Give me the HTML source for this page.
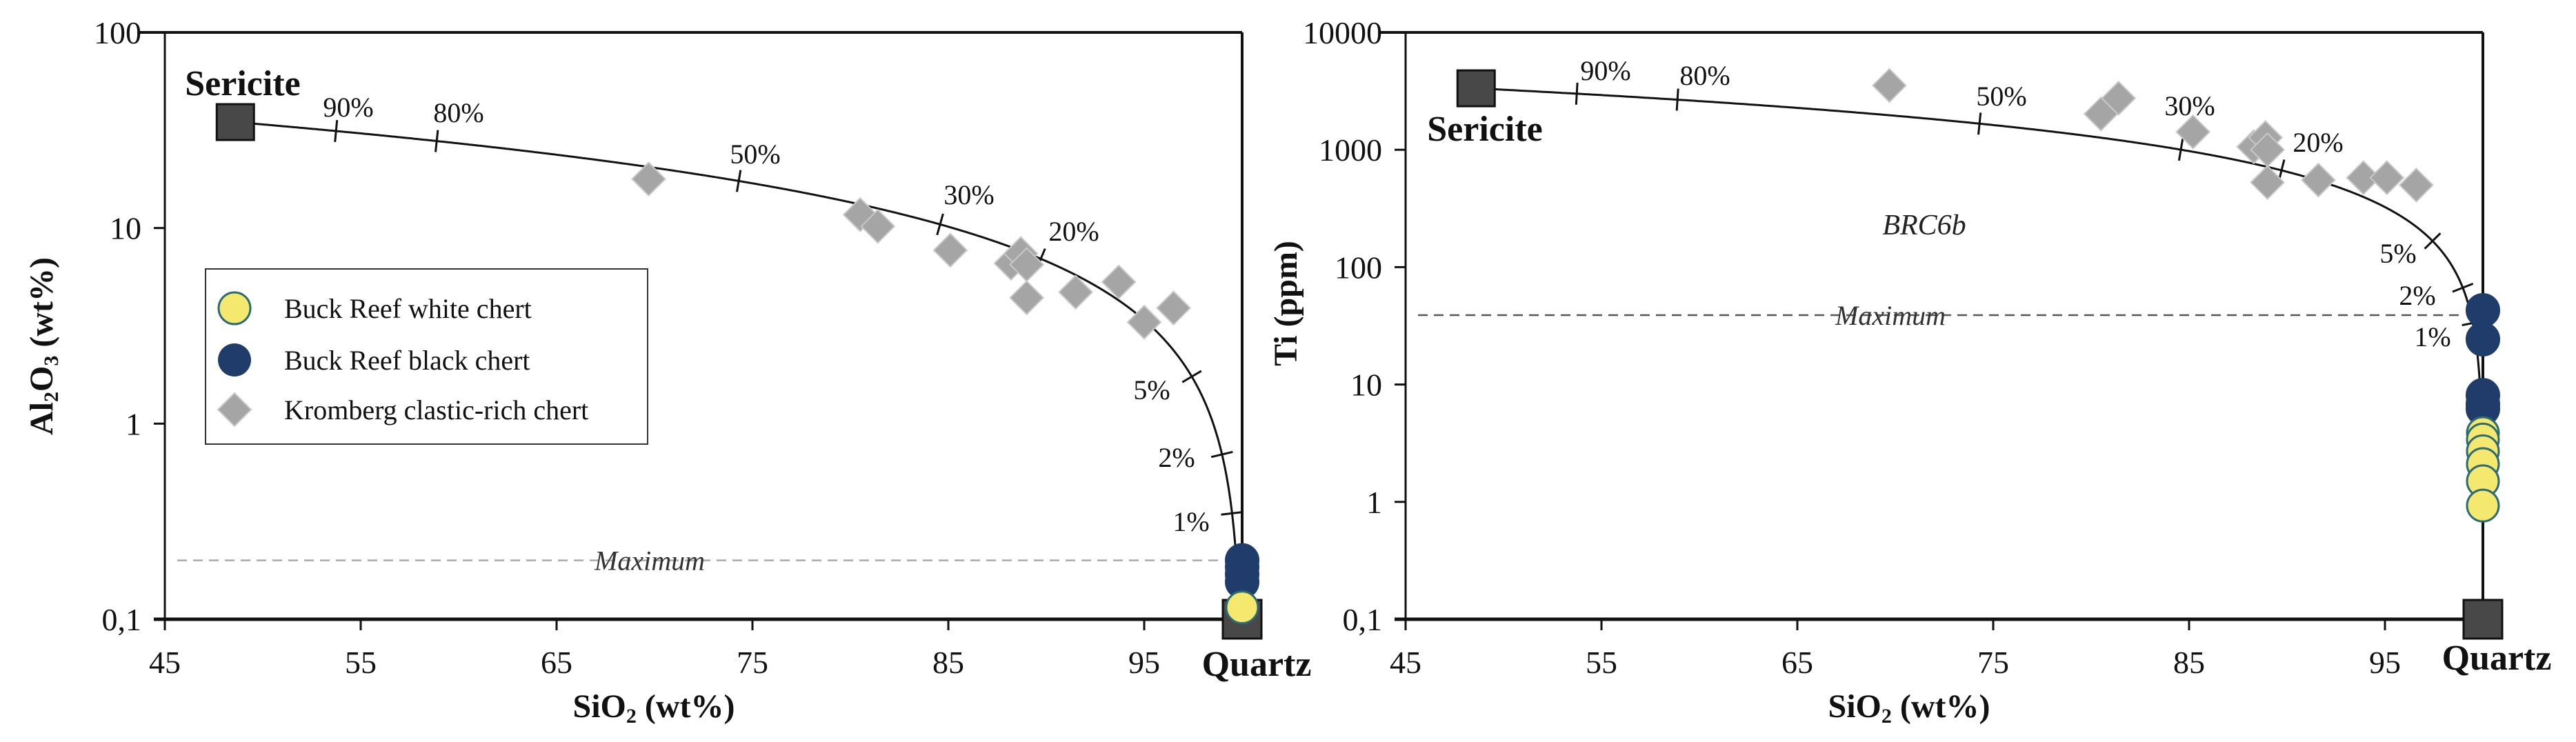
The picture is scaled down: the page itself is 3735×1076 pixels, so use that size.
<!DOCTYPE html>
<html><head><meta charset="utf-8">
<style>
html,body{margin:0;padding:0;background:#fff;}
svg{display:block;font-family:"Liberation Serif",serif;}
</style></head>
<body>
<svg id="chart" width="3735" height="1076" viewBox="0 0 3735 1076" xmlns="http://www.w3.org/2000/svg">
<rect width="3735" height="1076" fill="#fff"/>
<g id="left"></g>
<g id="right"></g>
</svg>
<script>
// ---- data ----
const xTicks = [45, 55, 65, 75, 85, 95];
const leftYTicks = [100, 10, 1, 0.1];
const leftYTickLabels = ["100", "10", "1", "0,1"];
const rightYTicks = [10000, 1000, 100, 10, 1, 0.1];
const rightYTickLabels = ["10000", "1000", "100", "10", "1", "0,1"];
const sericiteSiO2 = 48.6;
const sericiteAl = 34.8;
const sericiteTi = 3340;
const quartzSiO2 = 100;
const mixFractions = [0.9, 0.8, 0.5, 0.3, 0.2, 0.05, 0.02, 0.01];
const mixLabels = ["90%", "80%", "50%", "30%", "20%", "5%", "2%", "1%"];
const kromSiO2 = [69.7, 80.5, 81.4, 85.1, 88.2, 88.7, 89.0, 89.0, 91.5, 93.7, 95.0, 96.5];
const kromAl = [17.8, 11.7, 10.2, 7.7, 6.6, 7.4, 6.5, 4.4, 4.7, 5.3, 3.3, 3.9];
const kromTiSiO2 = [69.7, 80.5, 81.4, 85.2, 88.3, 88.9, 89.0, 89.0, 91.6, 93.9, 95.1, 96.6];
const kromTi = [3530, 2020, 2750, 1420, 1060, 1270, 1000, 527, 552, 578, 578, 500];
const blackSiO2 = [100, 100, 100, 100];
const blackAl = [0.2, 0.185, 0.17, 0.155];
const whiteSiO2Al = [100];
const whiteAl = [0.115];
const blackTiSiO2 = [100, 100, 100, 100, 100];
const blackTi = [42.9, 24.3, 8.1, 6.8, 6.2];
const whiteTiSiO2 = [100, 100, 100, 100, 100, 100];
const whiteTi = [3.86, 3.4, 2.7, 2.1, 1.5, 0.93];
const alMaximum = 0.2;
const tiMaximum = 39;

// ---- helpers ----
const NS = "http://www.w3.org/2000/svg";
function mk(parent, tag, attrs, text) {
  const e = document.createElementNS(NS, tag);
  for (const k in attrs) e.setAttribute(k, attrs[k]);
  if (text !== undefined) e.textContent = text;
  parent.appendChild(e);
  return e;
}

function panel(g, cfg) {
  const x0 = cfg.x0, top = 47, bottom = 898, xRight = cfg.x0 + 55 * 28.4;
  const decades = cfg.logMax - cfg.logMin;
  const X = v => x0 + (v - 45) * 28.4;
  const Y = v => top + (cfg.logMax - Math.log10(v)) * (bottom - top) / decades;

  // frame
  let e = mk(g, "line", {x1: x0 - 40, y1: top, x2: xRight, y2: top, stroke: "#111", "stroke-width": 4});
   
  e = mk(g, "line", {x1: xRight, y1: top, x2: xRight, y2: bottom, stroke: "#111", "stroke-width": 4});
   
  e = mk(g, "line", {x1: x0, y1: top, x2: x0, y2: bottom + 16, stroke: "#111", "stroke-width": 3});
   
  e = mk(g, "line", {x1: x0 - 16, y1: bottom, x2: xRight, y2: bottom, stroke: "#111", "stroke-width": 5});
   

  // x ticks
  xTicks.forEach(t => {
    let l = mk(g, "line", {x1: X(t), y1: bottom, x2: X(t), y2: bottom + 16, stroke: "#111", "stroke-width": 3});
     
    let tx = mk(g, "text", {x: X(t), y: bottom + 78, "font-size": 46, "text-anchor": "middle", fill: "#111"}, String(t));
     
  });
  // y ticks
  cfg.yTicks.forEach((t, i) => {
    let l = mk(g, "line", {x1: x0 - 16, y1: Y(t), x2: x0, y2: Y(t), stroke: "#111", "stroke-width": 3});
     
    let tx = mk(g, "text", {x: x0 - 34, y: Y(t) + 16, "font-size": 46, "text-anchor": "end", fill: "#111"}, cfg.yLabels[i]);
     
  });

  // maximum dashed line
  e = mk(g, "line", {x1: x0 + 18, y1: Y(cfg.maxVal), x2: xRight - 30, y2: Y(cfg.maxVal), stroke: cfg.dashColor, "stroke-width": 2.5, "stroke-dasharray": "14 9"});
   
  e = mk(g, "text", {x: cfg.maxLabelX, y: Y(cfg.maxVal) + 14, "font-size": 40, "font-style": "italic", "text-anchor": "middle", fill: "#333"}, "Maximum");
   
  const bgR = mk(g, "rect", {}); // placeholder not used
  bgR.remove();

  // mixing curve
  const pts = [];
  const minV = Math.pow(10, cfg.logMin);
  for (let i = 0; i <= 4000; i++) {
    const f = Math.pow(10, -i / 800);
    const sx = f * sericiteSiO2 + (1 - f) * quartzSiO2;
    const v = f * cfg.endVal;
    if (v < minV) break;
    pts.push([X(sx), Y(v)]);
  }
  pts.unshift([X(sericiteSiO2), Y(cfg.endVal)]);
  pts.push([X(quartzSiO2), bottom]);
  e = mk(g, "path", {d: "M" + pts.map(p => p[0].toFixed(1) + "," + p[1].toFixed(1)).join(" L"), fill: "none", stroke: "#111", "stroke-width": 3});
   

  // mix ticks + labels
  mixFractions.forEach((f, i) => {
    const p = (ff) => [X(ff * sericiteSiO2 + (1 - ff) * quartzSiO2), Y(ff * cfg.endVal)];
    const a = p(f * 1.03), b = p(f / 1.03), c = p(f);
    let dx = b[0] - a[0], dy = b[1] - a[1]; const L = Math.hypot(dx, dy); dx /= L; dy /= L;
    const nx = -dy, ny = dx, h = 16;
    let l = mk(g, "line", {x1: c[0] - nx * h, y1: c[1] - ny * h, x2: c[0] + nx * h, y2: c[1] + ny * h, stroke: "#111", "stroke-width": 3});
     
    const lp = cfg.mixLabelPos[i];
    let tx = mk(g, "text", {x: lp[0], y: lp[1] + 14, "font-size": 40, "text-anchor": "middle", fill: "#111"}, mixLabels[i]);
     
  });

  // diamonds
  cfg.kx.forEach((sx, i) => {
    const cx = X(sx), cy = Y(cfg.ky[i]), r = 24;
    let d = mk(g, "polygon", {points: `${cx},${cy - r} ${cx + r},${cy} ${cx},${cy + r} ${cx - r},${cy}`, fill: "#a5a5a5", stroke: "#c8c8c8", "stroke-width": 2});
     
  });
  // circles
  cfg.bx.forEach((sx, i) => {
    let c = mk(g, "circle", {cx: X(sx), cy: Y(cfg.by[i]), r: 24, fill: "#1f3c6a", stroke: "#1f3c6a", "stroke-width": 2});
     
  });
  // squares
  let s1 = mk(g, "rect", {x: X(sericiteSiO2) - 27, y: Y(cfg.endVal) - 26, width: 54, height: 52, fill: "#484848", stroke: "#111", "stroke-width": 3});
   
  let s2 = mk(g, "rect", {x: X(quartzSiO2) - 28, y: bottom - 28, width: 56, height: 56, fill: "#484848", stroke: "#111", "stroke-width": 3});
   
  cfg.wx.forEach((sx, i) => {
    let c = mk(g, "circle", {cx: X(sx), cy: Y(cfg.wy[i]), r: 23, fill: "#f4e96e", stroke: "#2d6b73", "stroke-width": 3});
     
  });

  // endmember labels
  e = mk(g, "text", {x: cfg.serLabel[0], y: cfg.serLabel[1] + 18, "font-size": 52, "font-weight": "bold", "text-anchor": "middle", fill: "#111"}, "Sericite");
   
  e = mk(g, "text", {x: cfg.qLabel[0], y: cfg.qLabel[1] + 18, "font-size": 52, "font-weight": "bold", "text-anchor": "middle", fill: "#111"}, "Quartz");
   

  // x title
  e = mk(g, "text", {x: cfg.xTitleX, y: 1040, "font-size": 48, "font-weight": "bold", "text-anchor": "middle", fill: "#111"});
   
  mk(e, "tspan", {}, "SiO");
  mk(e, "tspan", {"font-size": 30, dy: 8}, "2");
  mk(e, "tspan", {dy: -8}, " (wt%)");
  return {X, Y};
}

const L = document.getElementById("left");
panel(L, {
  x0: 239, logMax: 2, logMin: -1, yTicks: leftYTicks, yLabels: leftYTickLabels,
  endVal: sericiteAl, maxVal: alMaximum, dashColor: "#aaa", maxLabelX: 942,
  mixLabelPos: [[505,155],[665,163],[1095,223],[1405,282],[1557,335],[1670,565],[1706,663],[1727,756]],
  kx: kromSiO2, ky: kromAl, bx: blackSiO2, by: blackAl, wx: whiteSiO2Al, wy: whiteAl,
  serLabel: [352, 120], qLabel: [1822, 962], xTitleX: 948
});
// left y title
let yt = mk(L, "text", {transform: "translate(76,502) rotate(-90)", "font-size": 48, "font-weight": "bold", "text-anchor": "middle", fill: "#111"});
 
mk(yt, "tspan", {}, "Al");
mk(yt, "tspan", {"font-size": 30, dy: 8}, "2");
mk(yt, "tspan", {dy: -8}, "O");
mk(yt, "tspan", {"font-size": 30, dy: 8}, "3");
mk(yt, "tspan", {dy: -8}, " (wt%)");

// legend
let lg = mk(L, "g", {});
 
let lb = mk(lg, "rect", {x: 298, y: 390, width: 641, height: 254, fill: "#fff", stroke: "#333", "stroke-width": 2});
 
let c1 = mk(lg, "circle", {cx: 340, cy: 447, r: 23, fill: "#f4e96e", stroke: "#2d6b73", "stroke-width": 3});
 
let t1 = mk(lg, "text", {x: 412, y: 461, "font-size": 40, fill: "#111"}, "Buck Reef white chert");
 
let c2 = mk(lg, "circle", {cx: 340, cy: 522, r: 24, fill: "#1f3c6a"});
 
let t2 = mk(lg, "text", {x: 412, y: 536, "font-size": 40, fill: "#111"}, "Buck Reef black chert");
 
let d3 = mk(lg, "polygon", {points: "340,570 364,594 340,618 316,594", fill: "#a5a5a5", stroke: "#c8c8c8", "stroke-width": 2});
 
let t3 = mk(lg, "text", {x: 412, y: 608, "font-size": 40, fill: "#111"}, "Kromberg clastic-rich chert");
 

const R = document.getElementById("right");
panel(R, {
  x0: 2038, logMax: 4, logMin: -1, yTicks: rightYTicks, yLabels: rightYTickLabels,
  endVal: sericiteTi, maxVal: tiMaximum, dashColor: "#555", maxLabelX: 2741,
  mixLabelPos: [[2328,102],[2472,109],[2902,139],[3175,153],[3361,206],[3477,367],[3505,428],[3527,488]],
  kx: kromTiSiO2, ky: kromTi, bx: blackTiSiO2, by: blackTi, wx: whiteTiSiO2, wy: whiteTi,
  serLabel: [2153, 186], qLabel: [3620, 953], xTitleX: 2768
});
let yt2 = mk(R, "text", {transform: "translate(1880,440) rotate(-90)", "font-size": 48, "font-weight": "bold", "text-anchor": "middle", fill: "#111"}, "Ti (ppm)");
 
let brc = mk(R, "text", {x: 2790, y: 340, "font-size": 42, "font-style": "italic", "text-anchor": "middle", fill: "#222"}, "BRC6b");
 
</script>
</body></html>
